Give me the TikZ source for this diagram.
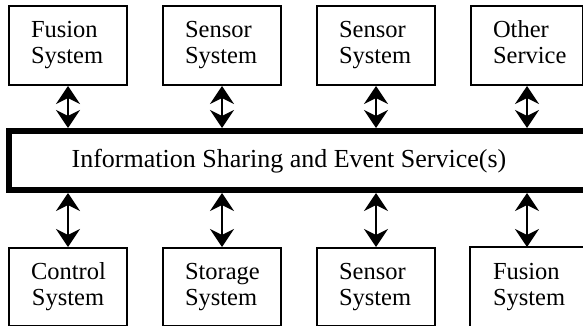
\documentclass[tikz,border=0pt]{standalone}
\usepackage{fontspec}
\setmainfont{Liberation Serif}
\usetikzlibrary{arrows.meta}
% two strut-aligned lines of a system label
\newcommand{\boxlines}[2]{\strut #1\\\strut #2}
\begin{document}
\begin{tikzpicture}[x=1pt,y=-1pt,
  font=\fontsize{24.5}{26}\selectfont,
  sysbox/.style={draw, line width=2pt, rectangle, inner xsep=22pt, inner ysep=0pt,
    text width=74pt, minimum height=79pt, align=left, anchor=north west},
  biarrow/.style={line width=2pt, {Stealth[length=18pt,width=24pt,inset=6pt]}-{Stealth[length=18pt,width=24pt,inset=6pt]}},
  busline/.style={line width=6pt, line join=miter}]
\useasboundingbox (0,0) rectangle (583,326);

% upper row of systems
\node[sysbox] (t1) at (8,5) {\boxlines{Fusion}{System}};
\node[sysbox] (t2) at (162,5) {\boxlines{Sensor}{System}};
\node[sysbox] (t3) at (316,5) {\boxlines{Sensor}{System}};
\node[sysbox, text width=68pt] (t4) at (470,5) {\boxlines{Other}{Service}};

% lower row of systems
\node[sysbox, align=center, minimum height=78pt] (b1) at (8,247) {\boxlines{Control}{System}};
\node[sysbox, minimum height=78pt] (b2) at (162,247) {\boxlines{Storage}{System}};
\node[sysbox, minimum height=78pt] (b3) at (316,247) {\boxlines{Sensor}{System}};
\node[sysbox, minimum height=78pt, draw=none, text width=69pt] (b4) at (470,247) {\boxlines{Fusion}{System}};
\draw[line width=2pt] (b4.north east) -- (b4.north west) -- (b4.south west) -- (b4.south east);

% shared service bus, open towards the right
\coordinate (busNE) at (583,131);
\coordinate (busNW) at (8.5,131);
\coordinate (busSW) at (8.5,190);
\coordinate (busSE) at (583,190);
\draw[busline] (busNE) -- (busNW) -- (busSW) -- (busSE);
\node[font=\fontsize{26}{28}\selectfont] (bus) at (289,161) {Information Sharing and Event Service(s)};
\coordinate (bustop) at (0,128);
\coordinate (busbot) at (0,193);

% links between systems and the bus
\foreach \s in {t1,t2,t3,t4}
  \draw[biarrow] (\s.south) -- (\s.south |- bustop);
\foreach \s in {b1,b2,b3}
  \draw[biarrow] (\s.north) -- (\s.north |- busbot);
\draw[biarrow] (t4.south |- b4.north) -- (t4.south |- busbot);
\end{tikzpicture}
\end{document}
